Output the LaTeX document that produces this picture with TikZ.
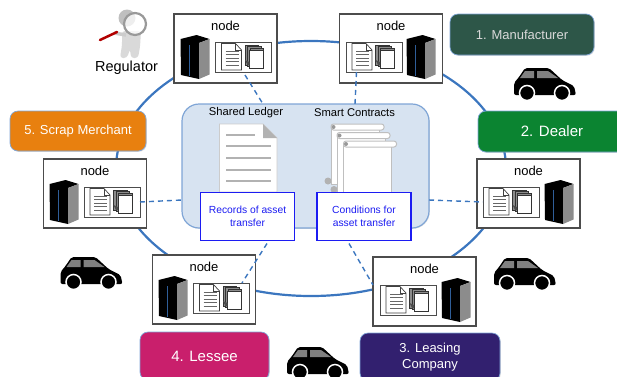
\documentclass[tikz,border=0pt]{standalone}
\usepackage{fontspec}
\setmainfont{Liberation Sans}
\usetikzlibrary{shapes,shadows}
\definecolor{ringblue}{HTML}{3B76BF}
\definecolor{ledgerfill}{HTML}{D7E3F1}
\definecolor{ledgeredge}{HTML}{7FA5D6}
\definecolor{recblue}{HTML}{1C1CF2}
\definecolor{makercol}{HTML}{2D5648}
\definecolor{dealercol}{HTML}{0B8431}
\definecolor{leasecol}{HTML}{32206F}
\definecolor{lesseecol}{HTML}{C91F6C}
\definecolor{scrapcol}{HTML}{E8800F}
\tikzset{
  nodebox/.style={draw=black!70,line width=1.2pt,fill=white,minimum width=103pt,
    minimum height=69pt,outer sep=0pt,drop shadow={shadow xshift=.6pt,shadow yshift=-.6pt,opacity=.3}},
  panelbox/.style={draw=black!70,line width=1pt,fill=white,minimum width=56pt,
    minimum height=30pt,outer sep=0pt},
  rolebox/.style={draw=ledgeredge,line width=.7pt,rounded corners=8pt,text=white,
    outer sep=0pt,inner sep=0pt,align=center,font=\fontsize{13}{15.5}\selectfont,
    drop shadow={shadow xshift=.8pt,shadow yshift=-.8pt,opacity=.25}},
  transbox/.style={draw=recblue,line width=1.8pt,fill=white,text=recblue,minimum width=94pt,
    minimum height=48pt,outer sep=0pt,align=center,inner sep=0pt,
    font=\fontsize{10.3}{13.5}\selectfont},
  linkdash/.style={draw=ringblue,line width=1.4pt,dash pattern=on 5pt off 4pt},
  pics/server/.style={code={
    \fill[black] (-14.5,-18) -- (1.5,-22) -- (14.5,-18) -- (4,-14) -- (4,22) -- (-14,18) -- cycle;
    \fill[black!45] (4,-14) -- (14.5,-18) -- (14.5,17.5) -- (4,22) -- cycle;
    \draw[ringblue!80!black,line width=1.2pt] (-5.5,-12) -- (-5.5,19);
  }},
  pics/paper/.style={code={
    \draw[black!75,fill=white,line width=.7pt] (-22,-13.5) -- (-8,-13.5) -- (-2,-7) -- (-2,13) -- (-22,13) -- cycle;
    \draw[black!75,line width=.5pt] (-8,-13.5) -- (-8,-7) -- (-2,-7);
    \foreach \ty in {-6,-2.5,1,4.5,8}
      \draw[black!60,line width=.8pt] (-18,\ty) -- (-5,\ty);
  }},
  pics/stack/.style={code={
    \foreach \dd in {0,2.5,5}
      \draw[black!80,fill=black!45,line width=.6pt] (1.5+\dd,-12+\dd*.7) rectangle (15+\dd,8+\dd*.7);
    \draw[black!80,fill=white,line width=.8pt] (6,-7) rectangle (20,11);
    \fill[black!70] (1.5,3) -- (4,8) -- (6,8) -- (6,5) -- cycle;
  }},
  pics/sheet/.style={code={
    \fill[black!30] (-3,54) circle (3.5);
    \draw[black!25,fill=white,line width=1pt] (0,0) rectangle (48,57);
    \draw[black!25,fill=white,line width=1pt,rounded corners=2.5pt] (0,-3) rectangle (53,3);
    \fill[black!40] (2.5,0) circle (2);
  }},
  pics/car/.style={code={
    \fill[black,rounded corners=2pt] (-31,10) -- (-31,-2) -- (-26,-8) -- (-20,-17) -- (4,-17)
      -- (17,-5) -- (29,1) -- (31,10) -- cycle;
    \fill[black!50] (-25,-7) -- (-20,-14) -- (-11,-14) -- (-11,-7) -- cycle;
    \fill[black!50] (-8,-14) -- (3,-14) -- (13,-7) -- (-8,-7) -- cycle;
    \foreach \wx in {-18,17}
      \draw[white,fill=black,line width=1.5pt] (\wx,8) circle (7.5);
  }}
}
\begin{document}
\begin{tikzpicture}[x=1pt,y=-1pt]
\clip (0,0) rectangle (617,376);
\node[ellipse,draw=ringblue,line width=2.2pt,minimum width=390pt,minimum height=255pt,
  inner sep=0pt] (ring) at (311,168.5) {};
\node[draw=ledgeredge,line width=1.2pt,fill=ledgerfill,rounded corners=17pt,minimum width=247pt,
  minimum height=124pt,outer sep=0pt,drop shadow={shadow xshift=.8pt,shadow yshift=-.8pt,opacity=.25}]
  (ledger) at (305.5,166) {};
\foreach \n/\x/\y/\sx/\px in {1/225.5/48.5/195/243.5,2/391/48.5/421/374,3/528.5/193.5/559/511,
    4/424.5/291.5/456/408,5/204/289.5/173/221.5,6/95/193.5/64/112} {
  \node[nodebox] (n\n) at (\x,\y) {};
  \node[font=\fontsize{13}{15}\selectfont,inner sep=0pt] (t\n) at (\x,\y-22.5) {node};
  \pic at (\sx,\y+8.5) {server};
  \node[panelbox] (p\n) at (\px,\y+8.5) {};
  \pic at (p\n) {paper};
  \pic at (p\n) {stack};
}
\fill[white,draw=black!20,line width=.8pt] (219.5,124) -- (263,124) -- (277,138) -- (277,192)
  -- (219.5,192) -- cycle;
\fill[black!30] (263,124) -- (263,138) -- (277,138) -- cycle;
\draw[black!30,line width=1.2pt] (226,135) -- (255,135);
\foreach \ly in {146,158,170,181}
  \draw[black!30,line width=1.2pt] (226,\ly) -- (271,\ly);
\pic at (331,127) {sheet};
\pic at (337,135.5) {sheet};
\pic at (343.5,144) {sheet};
\node[transbox] (rec) at (247.5,216.5) {Records of asset\\transfer};
\node[transbox] (cond) at (364,216.5) {Conditions for\\asset transfer};
\coordinate (e1) at (263,104);
\coordinate (e2) at (355,104);
\coordinate (e3) at (429,200);
\coordinate (e6) at (182,200);
\draw[linkdash] (p1.south) ++(1.5,3) -- (e1);
\draw[linkdash] (p2.south) ++(-17.5,0) -- (e2);
\draw[linkdash] (e3) -- (p3.west);
\draw[linkdash] (cond.south) ++(-15,3) -- (n4.west |- p4.north);
\draw[linkdash] (rec.south) ++(19.5,3) -- ([xshift=20.5pt]p5.north);
\draw[linkdash] (p6.east) -- (e6);
\node[font=\fontsize{11.2}{13}\selectfont,inner sep=0pt] (shared) at (246,112.5) {Shared Ledger};
\node[font=\fontsize{11.2}{13}\selectfont,inner sep=0pt] (smart) at (354.5,112.5) {Smart Contracts};
\node[rolebox,fill=makercol,minimum width=144pt,minimum height=41pt,text=white!85!black] (maker) at (522,34.5) {1. Manufacturer};
\node[rolebox,fill=dealercol,minimum width=148pt,minimum height=41pt,font=\fontsize{15}{17}\selectfont] (dealer) at (552,131.5) {2. Dealer};
\node[rolebox,fill=leasecol,minimum width=140pt,minimum height=48pt] (lease) at (430,357) {3. Leasing\\Company};
\node[rolebox,fill=lesseecol,minimum width=129pt,minimum height=48pt,font=\fontsize{15}{17}\selectfont] (lessee) at (204.5,356) {4. Lessee};
\node[rolebox,fill=scrapcol,minimum width=136pt,minimum height=40pt] (scrap) at (78,131) {5. Scrap Merchant};
\pic at (545,85) {car};
\pic at (525,275) {car};
\pic at (318,364) {car};
\pic at (91.5,274) {car};
\fill[black!25] (127,18) circle (8.5);
\fill[black!15,rounded corners=3pt] (122,31) -- (141,31) -- (140,47) -- (138,58) -- (131,58) -- (130,49) -- (127,58) -- (120,58) -- (122,45) -- cycle;
\draw[black!20,line width=3.5pt] (126,35) -- (114,33);
\draw[red!70!black,line width=2.5pt,line cap=round] (100,40) -- (117,32);
\draw[black!40,fill=white,fill opacity=.75,line width=2.2pt] (135,24) circle (11);
\node[font=\fontsize{14.5}{16}\selectfont,inner sep=0pt] (reg) at (126.5,67.5) {Regulator};
\end{tikzpicture}
\end{document}
